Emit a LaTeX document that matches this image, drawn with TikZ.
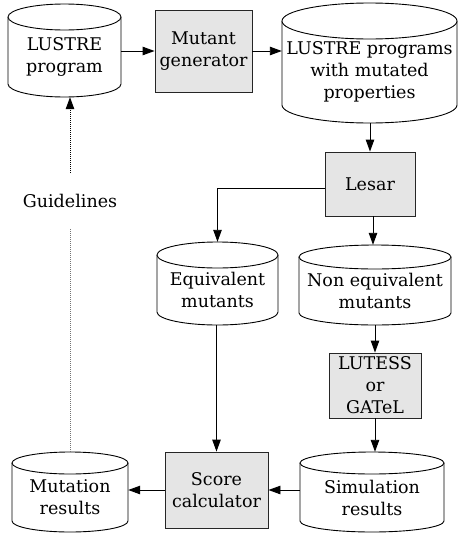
\documentclass[tikz,border=0pt]{standalone}
\usepackage{fontspec}
\setmainfont{DejaVu Serif}
\usetikzlibrary{arrows.meta}
\tikzset{
  txt/.style={font=\fontsize{17.5}{22}\selectfont, align=center, inner sep=0pt},
  shapebox/.style={draw=none, inner sep=0pt},
  cylline/.style={draw=black, line width=0.9pt, fill=white},
  procbox/.style={draw=black!85, line width=0.9pt, fill=gray!20, inner sep=0pt,
    font=\fontsize{17.5}{22}\selectfont, align=center},
  arr/.style={draw, line width=0.9pt, -{Triangle[length=12pt,width=8.5pt]}},
  guideline/.style={draw=black!55, line width=0.9pt, dash pattern=on 1pt off 1pt},
}
% #1 name, #2 x1, #3 ytop, #4 x2, #5 ybot, #6 ry, #7 text
\newcommand\cylnode[7]{%
  \pgfmathsetmacro\cylcx{(#2+#4)/2}%
  \pgfmathsetmacro\cylrx{(#4-#2)/2}%
  \pgfmathsetmacro\cylyt{#3+#6}%
  \pgfmathsetmacro\cylyb{#5-#6}%
  \pgfmathsetmacro\cylym{(#3+#5)/2}%
  \pgfmathsetmacro\cylyc{(\cylyt+#5)/2}%
  \pgfmathsetmacro\cylw{#4-#2}%
  \pgfmathsetmacro\cylh{#5-#3}%
  \path[cylline] (#2,\cylyt) -- (#2,\cylyb)
     arc[start angle=180,end angle=360,x radius=\cylrx pt,y radius=#6 pt] -- (#4,\cylyt);
  \path[cylline] (\cylcx,\cylyt) ellipse[x radius=\cylrx pt,y radius=#6 pt];
  \node[shapebox, minimum width=\cylw pt, minimum height=\cylh pt] (#1) at (\cylcx,\cylym) {};
  \node[txt] (#1-t) at (\cylcx,\cylyc) {#7};
}
\begin{document}
\begin{tikzpicture}[x=1pt,y=-1pt]
\useasboundingbox (0,0) rectangle (458,533);

% cylinders
\cylnode{prog}{8}{4}{121}{97}{13}{LUSTRE\\program}
\cylnode{progs}{282}{3}{457}{123}{18}{LUSTRE programs\\with mutated\\properties}
\cylnode{equiv}{157}{242}{278}{325}{13}{Equivalent\\mutants}
\cylnode{noneq}{299}{245}{451}{325}{12}{Non equivalent\\mutants}
\cylnode{sim}{300}{452}{444}{532}{11}{Simulation\\results}
\cylnode{mut}{12}{452}{128}{532}{11}{Mutation\\results}

% process boxes
\node[procbox, minimum width=97pt, minimum height=82pt] (gen) at (203.5,51) {Mutant\\generator};
\node[procbox, minimum width=90pt, minimum height=64pt] (lesar) at (370,184) {Lesar};
\node[procbox, minimum width=92pt, minimum height=65pt] (lutess) at (375,385.5) {LUTESS\\or\\GATeL};
\node[procbox, minimum width=103pt, minimum height=76pt] (score) at (216.5,490) {Score\\calculator};

% guidelines label
\node[txt, fill=white, minimum width=107pt, minimum height=56pt] (guide) at (70,201) {Guidelines};

% connectors
\draw[arr] (prog.east |- gen.west) -- (gen.west);
\draw[arr] (gen.east) -- (gen.east -| progs.west);
\draw[arr] (progs.south -| lesar.north) -- (lesar.north);
\draw[arr] ([yshift=-4pt]lesar.west) -| (equiv.north);
\draw[arr] ([xshift=3pt]lesar.south) -- ([xshift=3pt]lesar.south |- noneq.north);
\draw[arr] (noneq.south -| lutess.north) -- (lutess.north);
\draw[arr] (lutess.south) -- (lutess.south |- sim.north);
\draw[arr] (equiv.south -| score.north) -- (score.north);
\draw[arr] (sim.west |- score.east) -- (score.east);
\draw[arr] (score.west) -- (score.west -| mut.east);
\draw[guideline] (mut.north -| guide.south) -- (guide.south);
\draw[guideline, -{Triangle[length=12pt,width=8.5pt]}, black] (guide.north) -- (guide.north |- prog.south);
\end{tikzpicture}
\end{document}
